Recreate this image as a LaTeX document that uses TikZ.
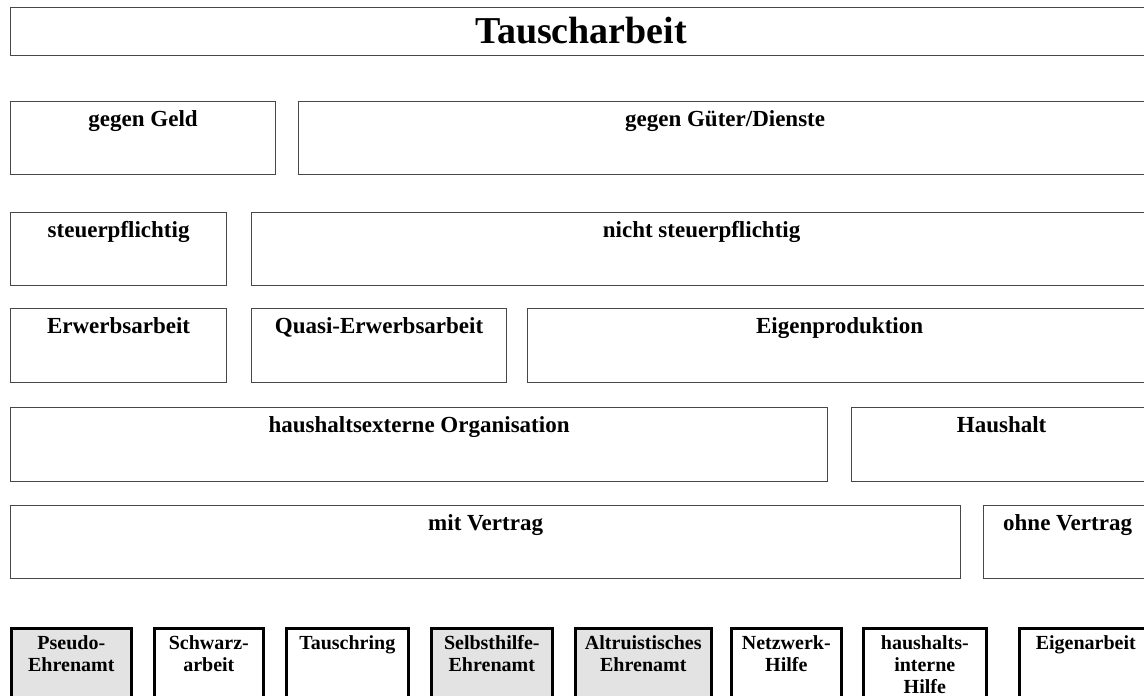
\documentclass[tikz,border=0pt]{standalone}
\usepackage{fontspec}
\setmainfont{Liberation Serif}
\usetikzlibrary{calc}
\begin{document}
\begin{tikzpicture}[x=1pt,y=-1pt,
  upbox/.style={draw=black!72, line width=1.2pt, inner sep=0pt, anchor=north west, minimum height=#1pt},
  upbox/.default=73,
  lowbox/.style={draw=black, line width=2.6pt, inner sep=0pt, anchor=north west, minimum height=95pt},
  grayfill/.style={fill=black!11},
  titletxt/.style={font=\bfseries\fontsize{38}{41}\selectfont, inner sep=0pt, anchor=north},
  rowtxt/.style={font=\bfseries\fontsize{23}{26}\selectfont, inner sep=0pt, anchor=north},
  lowtxt/.style={font=\bfseries\fontsize{20}{22}\selectfont, inner sep=0pt, anchor=north, align=center}]
\useasboundingbox (0,0) rectangle (1144,696);
\clip (0,0) rectangle (1144,696);
% title
\node[upbox=48, minimum width=1141pt] (title) at (10,7) {};
\node[titletxt] (titleT) at ($(title.north)+(0,10)$) {Tauscharbeit};
% row 2
\node[upbox, minimum width=265pt] (geld) at (10,101) {};
\node[rowtxt] (geldT) at ($(geld.north)+(0,9)$) {gegen Geld};
\node[upbox, minimum width=853pt] (gueter) at (298,101) {};
\node[rowtxt] (gueterT) at ($(gueter.north)+(0,9)$) {gegen Güter/Dienste};
% row 3
\node[upbox, minimum width=216pt] (steuer) at (10,212) {};
\node[rowtxt] (steuerT) at ($(steuer.north)+(0,9)$) {steuerpflichtig};
\node[upbox, minimum width=900pt] (nsteuer) at (251,212) {};
\node[rowtxt] (nsteuerT) at ($(nsteuer.north)+(0,9)$) {nicht steuerpflichtig};
% row 4
\node[upbox=74, minimum width=216pt] (erwerb) at (10,308) {};
\node[rowtxt] (erwerbT) at ($(erwerb.north)+(0,9)$) {Erwerbsarbeit};
\node[upbox=74, minimum width=255pt] (quasi) at (251,308) {};
\node[rowtxt] (quasiT) at ($(quasi.north)+(0,9)$) {Quasi-Erwerbsarbeit};
\node[upbox=74, minimum width=624pt] (eigenprod) at (527,308) {};
\node[rowtxt] (eigenprodT) at ($(eigenprod.north)+(0,9)$) {Eigenproduktion};
% row 5
\node[upbox=74, minimum width=817pt] (hext) at (10,407) {};
\node[rowtxt] (hextT) at ($(hext.north)+(0,9)$) {haushaltsexterne Organisation};
\node[upbox=74, minimum width=300pt] (haushalt) at (851,407) {};
\node[rowtxt] (haushaltT) at ($(haushalt.north)+(0,9)$) {Haushalt};
% row 6
\node[upbox, minimum width=950pt] (mitv) at (10,505) {};
\node[rowtxt] (mitvT) at ($(mitv.north)+(0,9)$) {mit Vertrag};
\node[upbox, minimum width=168pt] (ohnev) at (983,505) {};
\node[rowtxt] (ohnevT) at ($(ohnev.north)+(0,9)$) {ohne Vertrag};
% row 7
\node[lowbox, grayfill, minimum width=120pt] (pseudo) at (10,627) {};
\node[lowtxt] (pseudoT) at ($(pseudo.north)+(0,8)$) {Pseudo-\\Ehrenamt};
\node[lowbox, minimum width=109pt] (schwarz) at (153,627) {};
\node[lowtxt] (schwarzT) at ($(schwarz.north)+(0,8)$) {Schwarz-\\arbeit};
\node[lowbox, minimum width=122pt] (tausch) at (285,627) {};
\node[lowtxt] (tauschT) at ($(tausch.north)+(0,8)$) {Tauschring};
\node[lowbox, grayfill, minimum width=121pt] (selbst) at (430,627) {};
\node[lowtxt] (selbstT) at ($(selbst.north)+(0,8)$) {Selbsthilfe-\\Ehrenamt};
\node[lowbox, grayfill, minimum width=136pt] (altru) at (574,627) {};
\node[lowtxt] (altruT) at ($(altru.north)+(0,8)$) {Altruistisches\\Ehrenamt};
\node[lowbox, minimum width=110pt] (netz) at (730,627) {};
\node[lowtxt] (netzT) at ($(netz.north)+(0,8)$) {Netzwerk-\\Hilfe};
\node[lowbox, minimum width=123pt] (hint) at (862,627) {};
\node[lowtxt] (hintT) at ($(hint.north)+(0,8)$) {haushalts-\\interne\\Hilfe};
\node[lowbox, minimum width=133pt] (eigenarb) at (1018,627) {};
\node[lowtxt] (eigenarbT) at ($(eigenarb.north)+(0,8)$) {Eigenarbeit};
\end{tikzpicture}
\end{document}
